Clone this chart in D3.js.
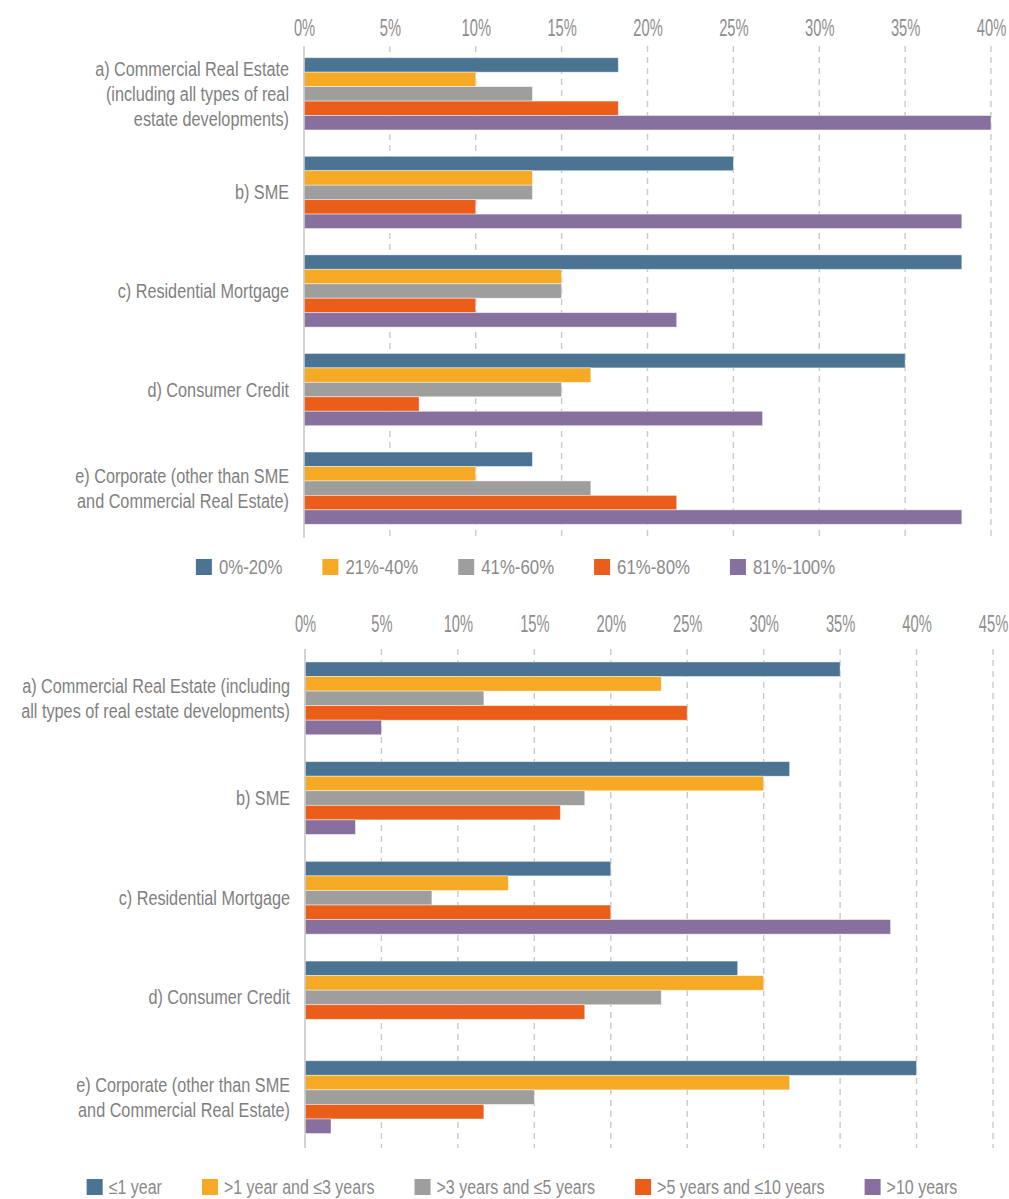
<!DOCTYPE html>
<html>
<head>
<meta charset="utf-8">
<script src="https://cdn.jsdelivr.net/npm/d3@7/dist/d3.min.js"></script>
<style>
  html, body { margin: 0; padding: 0; background: #ffffff; }
  svg { display: block; }
  text { font-family: "Liberation Sans", Arial, sans-serif; fill: #868686; }
</style>
</head>
<body>
<svg id="chart" width="1009" height="1199"></svg>
<script>
// ---- Data: share of respondents (%) ----
const categoryLinesLTV = [
  ["a) Commercial Real Estate", "(including all types of real", "estate developments)"],
  ["b) SME"],
  ["c) Residential Mortgage"],
  ["d) Consumer Credit"],
  ["e) Corporate (other than SME", "and Commercial Real Estate)"]
];
const seriesLTV = ["0%-20%", "21%-40%", "41%-60%", "61%-80%", "81%-100%"];
const ltv0to20   = [18.3, 25.0, 38.3, 35.0, 13.3];
const ltv21to40  = [10.0, 13.3, 15.0, 16.7, 10.0];
const ltv41to60  = [13.3, 13.3, 15.0, 15.0, 16.7];
const ltv61to80  = [18.3, 10.0, 10.0, 6.7, 21.7];
const ltv81to100 = [40.0, 38.3, 21.7, 26.7, 38.3];
const ticksLTV = [0, 5, 10, 15, 20, 25, 30, 35, 40];

const categoryLinesMat = [
  ["a) Commercial Real Estate (including", "all types of real estate developments)"],
  ["b) SME"],
  ["c) Residential Mortgage"],
  ["d) Consumer Credit"],
  ["e) Corporate (other than SME", "and Commercial Real Estate)"]
];
const seriesMat = ["\u22641 year", ">1 year and \u22643 years", ">3 years and \u22645 years", ">5 years and \u226410 years", ">10 years"];
const matUpTo1   = [35.0, 31.7, 20.0, 28.3, 40.0];
const mat1to3    = [23.3, 30.0, 13.3, 30.0, 31.7];
const mat3to5    = [11.7, 18.3, 8.3, 23.3, 15.0];
const mat5to10   = [25.0, 16.7, 20.0, 18.3, 11.7];
const matOver10  = [5.0, 3.3, 38.3, 0.0, 1.7];
const ticksMat = [0, 5, 10, 15, 20, 25, 30, 35, 40, 45];

const colors = ["#4a7492", "#f5a924", "#9e9e9d", "#eb5e1a", "#87709e"];

// horizontal squeeze that gives the regular face a condensed look
const NARROW = 0.82;

const svg = d3.select("#chart");

function drawPanel(cfg) {
  const g = svg.append("g");
  const keys = cfg.categories.map((d, i) => i);
  const x = d3.scaleLinear().domain(cfg.domain).range(cfg.xRange);
  const y = d3.scaleBand().domain(keys).range(cfg.yRange)
    .paddingInner(cfg.padInner).paddingOuter(cfg.padOuter);
  const ySub = d3.scaleBand().domain(cfg.series).range([0, y.bandwidth()]);

  // grid
  g.append("g").selectAll("line")
    .data(cfg.ticks.filter(t => t > 0))
    .join("line")
    .attr("x1", d => x(d)).attr("x2", d => x(d))
    .attr("y1", cfg.gridTop).attr("y2", cfg.gridBottom)
    .attr("stroke", "#c9c9c9").attr("stroke-width", 1.4)
    .attr("stroke-dasharray", "6,5");

  // tick labels along the top
  const axis = d3.axisTop(x).tickValues(cfg.ticks).tickFormat(d => d + "%").tickSize(0);
  const ax = g.append("g").attr("transform", `translate(0,${cfg.tickBaseline})`).call(axis);
  ax.select(".domain").remove();
  ax.selectAll("text")
    .attr("y", 0).attr("dy", null)
    .attr("transform", "scale(0.6,1)")
    .style("font-family", '"Liberation Sans", Arial, sans-serif')
    .style("font-size", "24.5px")
    .style("fill", "#8e8e8e");
  if (cfg.lastTickAnchorEnd) {
    ax.selectAll(".tick:last-of-type text").attr("text-anchor", "middle");
  }

  // bars
  const rows = keys.map(i => cfg.series.map((s, j) => ({ cat: i, key: s, j, value: cfg.values[j][i] })));
  g.append("g").selectAll("g")
    .data(rows)
    .join("g")
    .attr("transform", (d, i) => `translate(0,${y(i)})`)
    .selectAll("rect")
    .data(d => d.filter(v => v.value > 0))
    .join("rect")
    .attr("x", x(0))
    .attr("y", d => ySub(d.key))
    .attr("width", d => x(d.value) - x(0))
    .attr("height", ySub.bandwidth())
    .attr("fill", d => colors[d.j])
    .attr("stroke", "rgba(255,255,255,0.55)")
    .attr("stroke-width", 0.8);

  // zero axis line
  g.append("line")
    .attr("x1", x(0)).attr("x2", x(0))
    .attr("y1", cfg.gridTop).attr("y2", cfg.gridBottom)
    .attr("stroke", "#c8c8c8").attr("stroke-width", 1.6);

  // category labels
  const lh = 25;
  const labels = g.append("g").selectAll("text")
    .data(cfg.categories)
    .join("text")
    .attr("text-anchor", "end")
    .attr("transform", `translate(${cfg.labelRight},0) scale(${NARROW},1)`)
    .style("font-size", "19.8px")
    .style("fill", "#7f7f7f");
  labels.each(function(lines, i) {
    const cy = y(i) + y.bandwidth() / 2;
    const top = cy - (lines.length - 1) * lh / 2;
    d3.select(this).selectAll("tspan")
      .data(lines)
      .join("tspan")
      .attr("x", 0)
      .attr("y", (d, k) => top + k * lh + 7)
      .text(d => d);
  });

  // legend, laid out from measured label widths and centred
  const leg = g.append("g").attr("transform", `translate(0,${cfg.legendY})`);
  const items = leg.selectAll("g").data(cfg.series).join("g");
  items.append("rect")
    .attr("width", 16).attr("height", 16)
    .attr("fill", (d, i) => colors[i]);
  items.append("text")
    .attr("transform", `translate(${16 + cfg.legendGap},15) scale(${NARROW},1)`)
    .style("font-size", cfg.legendFont + "px")
    .style("fill", "#8a8a8a")
    .text(d => d);
  const widths = [];
  items.each(function() { widths.push(this.getBBox().width); });
  const total = d3.sum(widths) + cfg.legendSpacing * (widths.length - 1);
  let cx = cfg.legendCenter - total / 2;
  items.attr("transform", (d, i) => {
    const t = `translate(${cx},0)`;
    cx += widths[i] + cfg.legendSpacing;
    return t;
  });
}

drawPanel({
  categories: categoryLinesLTV,
  series: seriesLTV,
  values: [ltv0to20, ltv21to40, ltv41to60, ltv61to80, ltv81to100],
  ticks: ticksLTV,
  domain: [0, 40],
  xRange: [304, 991],
  yRange: [44.5, 537.5],
  padInner: 0.267,
  padOuter: 0.134,
  gridTop: 46,
  gridBottom: 538,
  tickBaseline: 36,
  labelRight: 289,
  legendY: 559,
  legendGap: 7,
  legendSpacing: 40,
  legendCenter: 515.5,
  legendFont: 20.5
});

drawPanel({
  categories: categoryLinesMat,
  series: seriesMat,
  values: [matUpTo1, mat1to3, mat3to5, mat5to10, matOver10],
  ticks: ticksMat,
  domain: [0, 45],
  xRange: [305, 993],
  yRange: [648.5, 1147],
  padInner: 0.27,
  padOuter: 0.135,
  gridTop: 649,
  gridBottom: 1148,
  tickBaseline: 632,
  labelRight: 290,
  legendY: 1179,
  legendGap: 6,
  legendSpacing: 40,
  legendCenter: 522,
  legendFont: 19.5
});
</script>
</body>
</html>
